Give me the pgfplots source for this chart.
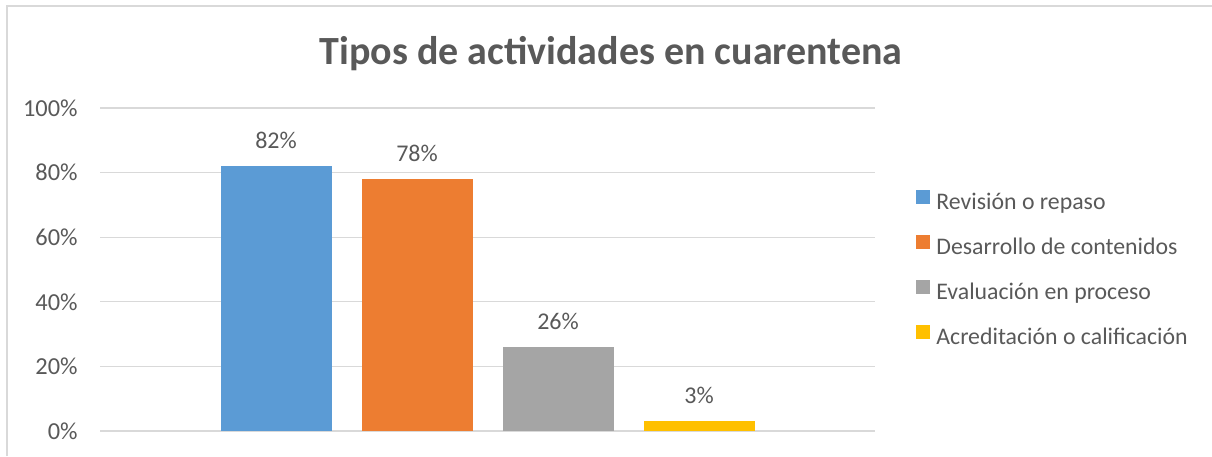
\documentclass[border=0pt]{standalone}
\usepackage{pgfplots}
\pgfplotsset{compat=1.18}
\usepackage{fontspec}
\setmainfont{Carlito}
\definecolor{txt}{HTML}{595959}
\definecolor{grd}{HTML}{D9D9D9}
\definecolor{c1}{HTML}{5B9BD5}
\definecolor{c2}{HTML}{ED7D31}
\definecolor{c3}{HTML}{A5A5A5}
\definecolor{c4}{HTML}{FFC000}
\begin{document}
\begin{tikzpicture}
\path[use as bounding box] (0,0) rectangle (606pt,228pt);
\draw[grd, line width=0.6pt] (3.5pt,0) -- (3.5pt,225pt) -- (606pt,225pt);
\begin{axis}[
 at={(50pt,12.5pt)}, anchor=south west,
 scale only axis, width=387.5pt, height=161.5pt,
 xmin=-1, xmax=1, ymin=0, ymax=100,
 xtick=\empty,
 ytick={0,20,...,100},
 yticklabel={\pgfmathprintnumber{\tick}\%},
 /pgf/number format/assume math mode=true,
 ymajorgrids, major grid style={grd, line width=0.6pt},
 major tick length=0pt,
 axis line style={draw=none},
 tick label style={font=\fontsize{12.2}{14}\selectfont, text=txt},
 yticklabel style={inner sep=0pt, xshift=-11pt},
 ybar=15pt, bar width=55.5pt,
 clip=false,
 nodes near coords={\pgfmathprintnumber{\pgfplotspointmeta}\%},
 nodes near coords style={font=\fontsize{12}{14}\selectfont, text=txt, anchor=base, inner sep=0pt, yshift=9pt},
 title={Tipos de actividades en cuarentena},
 title style={at={(0.6594,1.096)}, anchor=base, inner sep=0pt, font=\bfseries\fontsize{20}{24}\selectfont, text=txt},
 legend style={draw=none, fill=none, at={(1.0529,0.5015)}, anchor=west, inner sep=0pt,
   font=\fontsize{11.9}{14}\selectfont, text=txt, row sep=11pt, cells={anchor=west},
   nodes={inner sep=0pt, text height=7pt, text depth=2pt},
   /tikz/every odd column/.append style={column sep=3pt}},
 legend image code/.code={\fill[#1] (0pt,0pt) rectangle (7pt,7pt);},
]
\addplot[fill=c1, draw=none] coordinates {(0,82)};
\addplot[fill=c2, draw=none] coordinates {(0,78)};
\addplot[fill=c3, draw=none] coordinates {(0,26)};
\addplot[fill=c4, draw=none] coordinates {(0,3)};
\legend{Revisión o repaso, Desarrollo de contenidos, Evaluación en proceso, Acreditación o calificación}
\end{axis}
\end{tikzpicture}
\end{document}
